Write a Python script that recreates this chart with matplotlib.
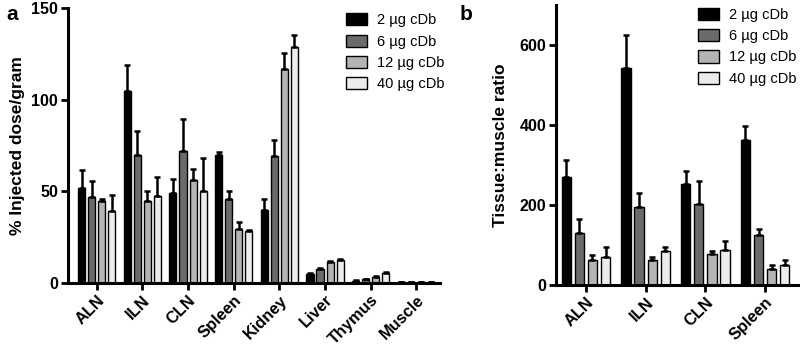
# plot.py: biodistribution of cDb at four doses (panels a, b)

import numpy as np
import matplotlib.pyplot as plt
from matplotlib.patches import Patch

plt.rcParams["font.family"] = ["Liberation Sans", "DejaVu Sans"]

doses = ["2 µg cDb", "6 µg cDb", "12 µg cDb", "40 µg cDb"]
colors = ["#000000", "#6b6b6b", "#b4b4b4", "#ececec"]

# panel a: % injected dose / gram
organs_a = ["ALN", "ILN", "CLN", "Spleen", "Kidney", "Liver", "Thymus", "Muscle"]
idg_2 = [52, 105, 49, 70, 39.5, 4.7, 1.1, 0.2]
idg_6 = [47, 70, 72, 45.5, 69, 7.6, 1.8, 0.5]
idg_12 = [44.5, 44.5, 56, 29.5, 116.5, 11.5, 3.3, 0.4]
idg_40 = [39, 47.5, 50, 28, 128.5, 12.4, 5.1, 0.4]
idg_2_err = [9.5, 14, 7.5, 1.5, 6.5, 0.4, 0.2, 0.1]
idg_6_err = [8.5, 13, 17.5, 4.5, 9, 0.5, 0.3, 0.1]
idg_12_err = [1, 5.5, 6, 3.5, 9, 0.6, 0.4, 0.1]
idg_40_err = [9, 10, 18, 1, 7, 0.6, 0.6, 0.1]

# panel b: tissue:muscle ratio
organs_b = ["ALN", "ILN", "CLN", "Spleen"]
tm_2 = [270, 543, 253, 362]
tm_6 = [131, 195, 202, 125]
tm_12 = [63, 62, 77, 41]
tm_40 = [71, 84, 87, 49]
tm_2_err = [43, 82, 31, 35]
tm_6_err = [34, 34, 59, 14]
tm_12_err = [11, 7, 7, 10]
tm_40_err = [25, 12, 24, 13]

step = 0.22
width = 0.155


def draw(ax, organs, vals, errs, ylim, yticks, ylabel, xlim):
    x = np.arange(len(organs))
    for i, (v, e) in enumerate(zip(vals, errs)):
        pos = x + (i - 1.5) * step
        ax.bar(pos, v, width, color=colors[i], edgecolor="black", linewidth=1.0,
               yerr=[np.zeros(len(e)), e], capsize=2.5,
               error_kw=dict(elinewidth=1.8, capthick=1.8, ecolor="black"),
               zorder=2)
    ax.set_xlim(*xlim)
    ax.set_ylim(*ylim)
    ax.set_yticks(yticks)
    ax.set_xticks(x)
    ax.set_xticklabels(organs, rotation=45, ha="right", rotation_mode="anchor",
                       fontsize=11.8, fontweight="bold")
    for lab in ax.get_yticklabels():
        lab.set_fontweight("bold")
        lab.set_fontsize(11.5)
    ax.set_ylabel(ylabel, fontsize=12.5, fontweight="bold")
    for s in ["top", "right"]:
        ax.spines[s].set_visible(False)
    for s in ["left", "bottom"]:
        ax.spines[s].set_linewidth(2.2)
    ax.tick_params(axis="both", width=2, length=5, direction="out", pad=2)
    ax.tick_params(axis="x", pad=2)


fig = plt.figure(figsize=(8, 3.48), dpi=100)

ax_a = fig.add_axes([0.0846, 0.1876, 0.465, 0.789])
draw(ax_a, organs_a, [idg_2, idg_6, idg_12, idg_40],
     [idg_2_err, idg_6_err, idg_12_err, idg_40_err],
     (0, 150), [0, 50, 100, 150], "% Injected dose/gram", (-0.635, 7.51))
ax_a.yaxis.set_label_coords(-0.115, 0.5)

ax_b = fig.add_axes([0.695, 0.181, 0.3025, 0.8046])
draw(ax_b, organs_b, [tm_2, tm_6, tm_12, tm_40],
     [tm_2_err, tm_6_err, tm_12_err, tm_40_err],
     (0, 700), [0, 200, 400, 600], "Tissue:muscle ratio", (-0.5, 3.55))
ax_b.yaxis.set_label_coords(-0.2, 0.5)

handles = [Patch(facecolor=c, edgecolor="black", linewidth=1.0) for c in colors]
leg_kw = dict(frameon=False, fontsize=10.5, handlelength=1.45, handleheight=0.9,
              handletextpad=0.7, labelspacing=0.5, borderpad=0, borderaxespad=0,
              loc="upper left")
fig.legend(handles, doses, bbox_to_anchor=(0.432, 0.962), **leg_kw)
fig.legend(handles, doses, bbox_to_anchor=(0.872, 0.978), **leg_kw)

fig.text(0.008, 0.985, "a", fontsize=15, fontweight="bold", va="top")
fig.text(0.575, 0.985, "b", fontsize=15, fontweight="bold", va="top")

fig.savefig("out.png", dpi=100)
plt.close(fig)
